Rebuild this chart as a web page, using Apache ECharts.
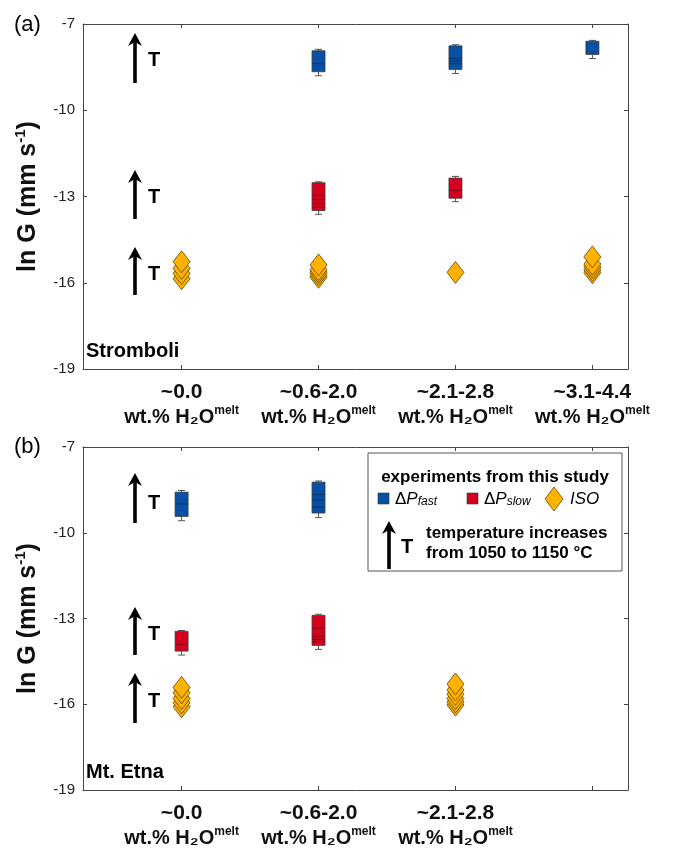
<!DOCTYPE html>
<html><head><meta charset="utf-8">
<script src="https://cdn.jsdelivr.net/npm/echarts@6/dist/echarts.min.js"></script>
<style>html,body{margin:0;padding:0;background:#fff}#c{width:681px;height:851px}</style>
</head><body><div id="c"></div>
<script>
const categories = ['~0.0', '~0.6-2.0', '~2.1-2.8', '~3.1-4.4'];
const categoriesEtna = ['~0.0', '~0.6-2.0', '~2.1-2.8', ''];
const catPositions = [1, 2, 3, 4];
// boxes: [category position, lower whisker, box bottom, box top, upper whisker]
const stromFastBoxes = [[2, -8.80, -8.66, -7.93, -7.88], [3, -8.72, -8.58, -7.76, -7.72], [4, -8.20, -8.06, -7.60, -7.57]];
const stromFastLines = [[2, -8.38], [3, -8.20], [3, -8.29], [3, -8.38]];
const stromSlowBoxes = [[2, -13.62, -13.49, -12.52, -12.49], [3, -13.18, -13.06, -12.36, -12.30]];
const stromSlowLines = [[2, -12.96], [2, -13.11], [2, -13.25], [2, -13.38], [3, -12.79]];
const stromIso = [[1, -15.86], [1, -15.68], [1, -15.50], [1, -15.27],
  [2, -15.81], [2, -15.72], [2, -15.63], [2, -15.55], [2, -15.38],
  [3, -15.64],
  [4, -15.65], [4, -15.55], [4, -15.45], [4, -15.35], [4, -15.10]];
const etnaFastBoxes = [[1, -9.58, -9.43, -8.58, -8.52], [2, -9.47, -9.31, -8.23, -8.19]];
const etnaFastLines = [[1, -8.99], [2, -8.66], [2, -8.85], [2, -9.10]];
const etnaSlowBoxes = [[1, -14.28, -14.14, -13.45, -13.42], [2, -14.08, -13.94, -12.89, -12.85]];
const etnaSlowLines = [[1, -13.90], [2, -13.34], [2, -13.62], [2, -13.73], [2, -13.81]];
const etnaIso = [[1, -16.09], [1, -15.95], [1, -15.80], [1, -15.60], [1, -15.41],
  [3, -16.03], [3, -15.92], [3, -15.80], [3, -15.65], [3, -15.50], [3, -15.29]];

const FONT = 'Liberation Sans';
const BLUE = '#0750A4', BLUE_D = '#023570';
const RED = '#D5001F', RED_D = '#8E0014';
const GOLD = '#FFB200', GOLD_E = '#5E4500';

const chart = echarts.init(document.getElementById('c'), null, {renderer: 'canvas'});

function boxRender(color) {
  return function (params, api) {
    const x = api.value(0);
    const pLow = api.coord([x, api.value(1)]);
    const pB = api.coord([x, api.value(2)]);
    const pT = api.coord([x, api.value(3)]);
    const pHigh = api.coord([x, api.value(4)]);
    const w = 13, cap = 7, cx = pLow[0];
    const ws = {stroke: '#555', lineWidth: 1};
    return {type: 'group', children: [
      {type: 'line', shape: {x1: cx, y1: pLow[1], x2: cx, y2: pB[1]}, style: ws},
      {type: 'line', shape: {x1: cx - cap / 2, y1: pLow[1], x2: cx + cap / 2, y2: pLow[1]}, style: ws},
      {type: 'line', shape: {x1: cx, y1: pHigh[1], x2: cx, y2: pT[1]}, style: ws},
      {type: 'line', shape: {x1: cx - cap / 2, y1: pHigh[1], x2: cx + cap / 2, y2: pHigh[1]}, style: ws},
      {type: 'rect', shape: {x: cx - w / 2, y: pT[1], width: w, height: pB[1] - pT[1]},
        style: {fill: color, stroke: '#3a3a3a', lineWidth: 0.8}}
    ]};
  };
}
function lineRender(color) {
  return function (params, api) {
    const p = api.coord([api.value(0), api.value(1)]);
    return {type: 'line', shape: {x1: p[0] - 6, y1: p[1], x2: p[0] + 6, y2: p[1]},
      style: {stroke: color, lineWidth: 1.2}};
  };
}

const grids = [
  {left: 83, top: 24, width: 545, height: 345, outerBoundsMode: 'none', containLabel: false},
  {left: 83, top: 447, width: 545, height: 343, outerBoundsMode: 'none', containLabel: false}
];

const frameColor = '#444';
function xAxes(gi, labels) {
  return [
    {type: 'value', gridIndex: gi, min: 0.28, max: 4.26, position: 'bottom',
      axisLine: {show: true, onZero: false, lineStyle: {color: frameColor, width: 1}},
      axisTick: {show: true, inside: true, length: 4, customValues: catPositions, lineStyle: {color: frameColor}},
      splitLine: {show: false},
      axisLabel: {show: true, customValues: catPositions, margin: 11,
        formatter: function (v) {
          const c = labels[Math.round(v) - 1];
          if (!c) return '';
          return '{a|' + c + '}\n{b|wt.% H₂O}{s|melt}';
        },
        rich: {
          a: {fontSize: 21, fontWeight: 'bold', fontFamily: FONT, color: '#111', lineHeight: 25},
          b: {fontSize: 20, fontWeight: 'bold', fontFamily: FONT, color: '#111', lineHeight: 25},
          s: {fontSize: 12, fontWeight: 'bold', fontFamily: FONT, color: '#111', lineHeight: 25, verticalAlign: 'top', padding: [0, 0, 17, 0]}
        }
      }},
    {type: 'value', gridIndex: gi, min: 0.28, max: 4.26, position: 'top',
      axisLine: {show: true, onZero: false, lineStyle: {color: frameColor, width: 1}},
      axisTick: {show: true, inside: true, length: 4, customValues: catPositions, lineStyle: {color: frameColor}},
      splitLine: {show: false}, axisLabel: {show: false}}
  ];
}
function yAxes(gi) {
  return [
    {type: 'value', gridIndex: gi, min: -19, max: -7, interval: 3, position: 'left',
      name: '{n|ln G (mm s}{p|-1}{n|)}', nameLocation: 'middle', nameGap: 36, nameRotate: 90,
      nameTextStyle: {rich: {
        n: {fontSize: 25, fontWeight: 'bold', fontFamily: FONT, color: '#111', lineHeight: 30},
        p: {fontSize: 15, fontWeight: 'bold', fontFamily: FONT, color: '#111', lineHeight: 30, verticalAlign: 'top', padding: [0, 0, 14, 0]}
      }},
      axisLine: {show: true, onZero: false, lineStyle: {color: frameColor, width: 1}},
      axisTick: {show: true, inside: true, length: 4, lineStyle: {color: frameColor}},
      splitLine: {show: false},
      axisLabel: {fontSize: 15, fontFamily: FONT, color: '#222', margin: 8}},
    {type: 'value', gridIndex: gi, min: -19, max: -7, interval: 3, position: 'right',
      axisLine: {show: true, onZero: false, lineStyle: {color: frameColor, width: 1}},
      axisTick: {show: true, inside: true, length: 4, lineStyle: {color: frameColor}},
      splitLine: {show: false}, axisLabel: {show: false}}
  ];
}

function panelSeries(xi, yi, fastB, fastL, slowB, slowL, iso) {
  return [
    {type: 'custom', xAxisIndex: xi, yAxisIndex: yi, renderItem: boxRender(BLUE), data: fastB, encode: {x: 0, y: [1, 2, 3, 4]}},
    {type: 'custom', xAxisIndex: xi, yAxisIndex: yi, renderItem: lineRender(BLUE_D), data: fastL, encode: {x: 0, y: 1}},
    {type: 'custom', xAxisIndex: xi, yAxisIndex: yi, renderItem: boxRender(RED), data: slowB, encode: {x: 0, y: [1, 2, 3, 4]}},
    {type: 'custom', xAxisIndex: xi, yAxisIndex: yi, renderItem: lineRender(RED_D), data: slowL, encode: {x: 0, y: 1}},
    {type: 'scatter', xAxisIndex: xi, yAxisIndex: yi, data: iso, symbol: 'diamond', symbolSize: [17, 22],
      itemStyle: {color: GOLD, borderColor: GOLD_E, borderWidth: 0.8, opacity: 1}}
  ];
}

function arrow(x, yTop, yBot) {
  return [
    {type: 'line', shape: {x1: x, y1: yBot, x2: x, y2: yTop + 8}, style: {stroke: '#000', lineWidth: 3.6}},
    {type: 'polygon', shape: {points: [[x - 7, yTop + 13], [x, yTop], [x + 7, yTop + 13], [x, yTop + 9]]}, style: {fill: '#000'}}
  ];
}
function tLabel(x, y) {
  return {type: 'text', x: x, y: y, style: {text: 'T', font: 'bold 20px "Liberation Sans"', fill: '#000', align: 'center', verticalAlign: 'middle'}};
}
function txt(x, y, t, font, align) {
  return {type: 'text', x: x, y: y, style: {text: t, font: font, fill: '#000', align: align || 'left', verticalAlign: 'middle'}};
}
const legRich = {
  d: {fontSize: 17, fontFamily: FONT, fill: '#000'},
  i: {fontSize: 17, fontFamily: FONT, fontStyle: 'italic', fill: '#000'},
  sub: {fontSize: 12, fontFamily: FONT, fontStyle: 'italic', fill: '#000', verticalAlign: 'bottom', padding: [6, 0, 0, 0]}
};

const graphics = [].concat(
  arrow(135, 33, 83), [tLabel(154, 60)],
  arrow(135, 170, 219), [tLabel(154, 197)],
  arrow(135, 247, 295), [tLabel(154, 274)],
  arrow(135, 473, 523), [tLabel(154, 503)],
  arrow(135, 607, 655), [tLabel(154, 634)],
  arrow(135, 673, 723), [tLabel(154, 701)],
  [
    txt(14, 25, '(a)', '22px "Liberation Sans"'),
    txt(14, 447, '(b)', '22px "Liberation Sans"'),
    txt(86, 351, 'Stromboli', 'bold 20px "Liberation Sans"'),
    txt(86, 772, 'Mt. Etna', 'bold 20px "Liberation Sans"'),
    {type: 'rect', shape: {x: 368, y: 453, width: 254, height: 118}, style: {fill: '#fff', stroke: '#555', lineWidth: 1}},
    txt(495, 477, 'experiments from this study', 'bold 17px "Liberation Sans"', 'center'),
    {type: 'rect', shape: {x: 378, y: 493, width: 11, height: 11}, style: {fill: BLUE, stroke: '#333', lineWidth: 0.6}},
    {type: 'text', x: 395, y: 499, style: {rich: legRich, text: '{d|Δ}{i|P}{sub|fast}', verticalAlign: 'middle'}},
    {type: 'rect', shape: {x: 467, y: 493, width: 11, height: 11}, style: {fill: RED, stroke: '#333', lineWidth: 0.6}},
    {type: 'text', x: 484, y: 499, style: {rich: legRich, text: '{d|Δ}{i|P}{sub|slow}', verticalAlign: 'middle'}},
    {type: 'polygon', shape: {points: [[554, 487], [563, 499], [554, 511], [545, 499]]}, style: {fill: GOLD, stroke: GOLD_E, lineWidth: 0.8}},
    txt(570, 499, 'ISO', 'italic 17px "Liberation Sans"'),
    txt(426, 533, 'temperature increases', 'bold 17px "Liberation Sans"'),
    txt(426, 553, 'from 1050 to 1150 °C', 'bold 17px "Liberation Sans"'),
    tLabel(407, 547)
  ],
  arrow(389, 521, 569)
);

chart.setOption({
  animation: false,
  backgroundColor: '#fff',
  grid: grids,
  xAxis: xAxes(0, categories).concat(xAxes(1, categoriesEtna)),
  yAxis: yAxes(0).concat(yAxes(1)),
  series: panelSeries(0, 0, stromFastBoxes, stromFastLines, stromSlowBoxes, stromSlowLines, stromIso)
    .concat(panelSeries(2, 2, etnaFastBoxes, etnaFastLines, etnaSlowBoxes, etnaSlowLines, etnaIso)),
  graphic: graphics
});
</script></body></html>
